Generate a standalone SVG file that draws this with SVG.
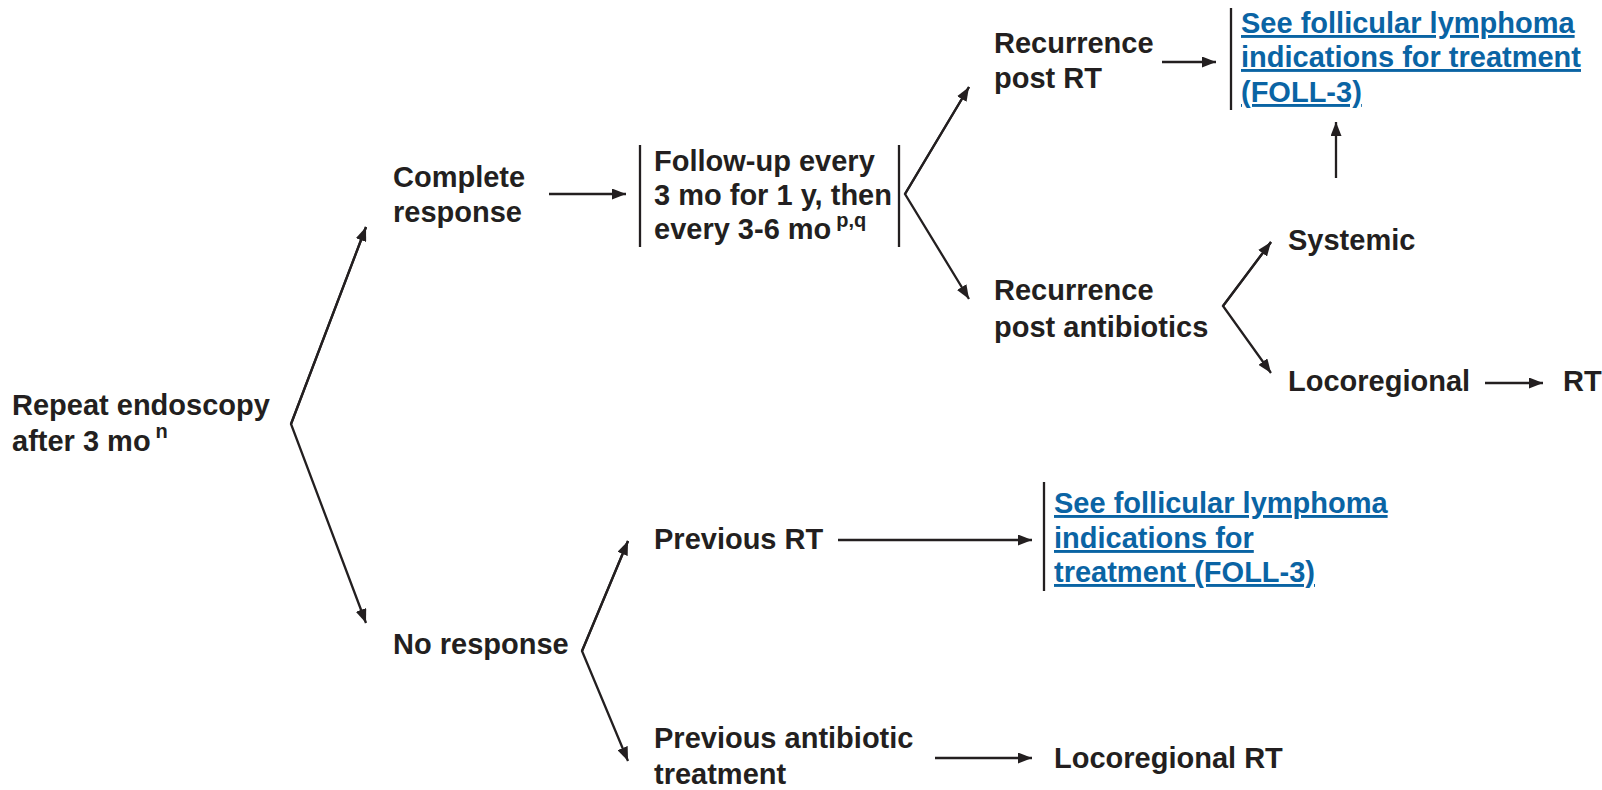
<svg xmlns="http://www.w3.org/2000/svg" width="1602" height="790" viewBox="0 0 1602 790">
  <style>
    .t { font-family: "Liberation Sans", Arial, sans-serif; font-weight: bold; font-size: 29px; fill: #231f20; }
    .sup { font-size: 20px; }
    .lnk { font-family: "Liberation Sans", Arial, sans-serif; font-weight: bold; font-size: 29px; fill: #0a64a4; text-decoration: underline; }
    .ln { stroke: #231f20; stroke-width: 2.3; fill: none; }
    .bar { stroke: #231f20; stroke-width: 2.3; }
  </style>
  <defs>
    <marker id="ah" viewBox="0 0 14 11" refX="14" refY="5.5" markerWidth="14" markerHeight="11" markerUnits="userSpaceOnUse" orient="auto">
      <path d="M0,0 L14,5.5 L0,11 z" fill="#231f20"/>
    </marker>
  </defs>
  <rect width="1602" height="790" fill="#ffffff"/>

  <!-- connectors -->
  <g id="connectors">
    <!-- main split -->
    <polyline class="ln" points="366,227 291,424 366,623" marker-end="url(#ah)"/>
    <line class="ln" x1="291" y1="424" x2="366" y2="227" marker-end="url(#ah)"/>
    <!-- complete response -> follow-up -->
    <line class="ln" x1="549" y1="194" x2="626" y2="194" marker-end="url(#ah)"/>
    <!-- follow-up split -->
    <polyline class="ln" points="969,87 905,194 969,299" marker-end="url(#ah)"/>
    <line class="ln" x1="905" y1="194" x2="969" y2="87" marker-end="url(#ah)"/>
    <!-- recurrence post RT -> FOLL-3 -->
    <line class="ln" x1="1162" y1="62" x2="1216" y2="62" marker-end="url(#ah)"/>
    <!-- systemic -> FOLL-3 -->
    <line class="ln" x1="1336" y1="178" x2="1336" y2="122" marker-end="url(#ah)"/>
    <!-- recurrence post antibiotics split -->
    <polyline class="ln" points="1271,242 1223,306 1271,373" marker-end="url(#ah)"/>
    <line class="ln" x1="1223" y1="306" x2="1271" y2="242" marker-end="url(#ah)"/>
    <!-- locoregional -> RT -->
    <line class="ln" x1="1485" y1="383" x2="1543" y2="383" marker-end="url(#ah)"/>
    <!-- no response split -->
    <polyline class="ln" points="628,541 582,651 628,761" marker-end="url(#ah)"/>
    <line class="ln" x1="582" y1="651" x2="628" y2="541" marker-end="url(#ah)"/>
    <!-- previous RT -> FOLL-3 -->
    <line class="ln" x1="838" y1="540" x2="1032" y2="540" marker-end="url(#ah)"/>
    <!-- previous antibiotic -> locoregional RT -->
    <line class="ln" x1="935" y1="758" x2="1032" y2="758" marker-end="url(#ah)"/>
  </g>

  <g id="repeat-endoscopy">
    <text class="t" x="12" y="415">Repeat endoscopy</text>
    <text class="t" x="12" y="451">after 3 mo<tspan class="sup" dx="5" dy="-13">n</tspan></text>
  </g>

  <g id="complete-response">
    <text class="t" x="393" y="187">Complete</text>
    <text class="t" x="393" y="222">response</text>
  </g>

  <g id="follow-up">
    <line class="bar" x1="640" y1="145" x2="640" y2="247"/>
    <line class="bar" x1="899" y1="145" x2="899" y2="247"/>
    <text class="t" x="654" y="171">Follow-up every</text>
    <text class="t" x="654" y="205">3 mo for 1 y, then</text>
    <text class="t" x="654" y="239">every 3-6 mo<tspan class="sup" dx="5" dy="-12">p,q</tspan></text>
  </g>

  <g id="recurrence-post-rt">
    <text class="t" x="994" y="53">Recurrence</text>
    <text class="t" x="994" y="88">post RT</text>
  </g>

  <g id="foll3-top">
    <line class="bar" x1="1231" y1="8" x2="1231" y2="110"/>
    <text class="lnk" x="1241" y="33">See follicular lymphoma</text>
    <text class="lnk" x="1241" y="67">indications for treatment</text>
    <text class="lnk" x="1241" y="102">(FOLL-3)</text>
  </g>

  <g id="systemic">
    <text class="t" x="1288" y="250">Systemic</text>
  </g>

  <g id="recurrence-post-antibiotics">
    <text class="t" x="994" y="300">Recurrence</text>
    <text class="t" x="994" y="337">post antibiotics</text>
  </g>

  <g id="locoregional">
    <text class="t" x="1288" y="391">Locoregional</text>
  </g>

  <g id="rt">
    <text class="t" x="1563" y="391">RT</text>
  </g>

  <g id="no-response">
    <text class="t" x="393" y="654">No response</text>
  </g>

  <g id="previous-rt">
    <text class="t" x="654" y="549">Previous RT</text>
  </g>

  <g id="foll3-bottom">
    <line class="bar" x1="1044" y1="482" x2="1044" y2="591"/>
    <text class="lnk" x="1054" y="513">See follicular lymphoma</text>
    <text class="lnk" x="1054" y="548">indications for</text>
    <text class="lnk" x="1054" y="582">treatment (FOLL-3)</text>
  </g>

  <g id="previous-antibiotic">
    <text class="t" x="654" y="748">Previous antibiotic</text>
    <text class="t" x="654" y="784">treatment</text>
  </g>

  <g id="locoregional-rt">
    <text class="t" x="1054" y="768">Locoregional RT</text>
  </g>
</svg>
